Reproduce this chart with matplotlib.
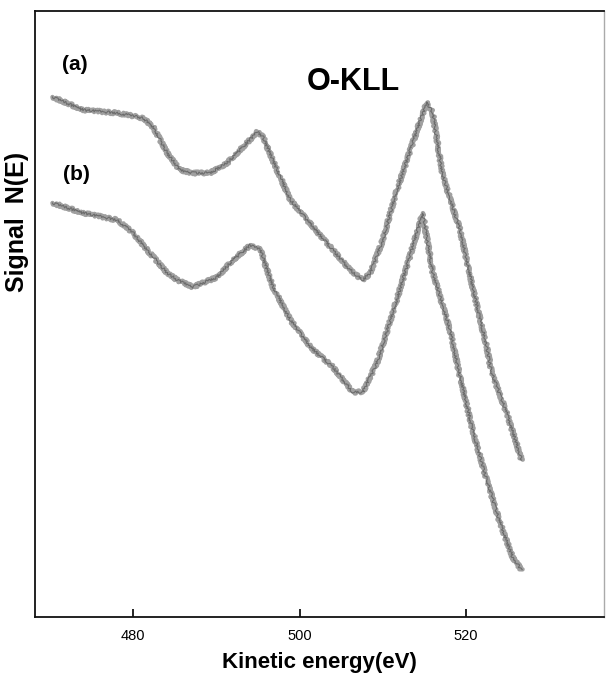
import matplotlib
matplotlib.use("Agg")
import matplotlib.pyplot as plt

plt.rcParams['font.family'] = ['Liberation Sans', 'DejaVu Sans']

# Kinetic energy (eV) and signal N(E) (arbitrary units)
energy_a = [470.3, 474.0, 478.1, 481.2, 482.4, 484.1, 485.6, 487.2, 489.2, 491.3,
            493.2, 494.9, 495.6, 497.3, 498.9, 500.9, 503.7, 506.1, 507.6, 508.5,
            510.0, 511.7, 513.6, 515.3, 516.0, 517.2, 519.3, 520.8, 522.5, 523.1,
            524.9, 526.7]
signal_a = [520, 507, 504, 499, 490, 464, 447, 444, 444, 454,
            470, 485, 480, 447, 417, 397, 370, 347, 337, 344,
            377, 427, 474, 515, 504, 442, 387, 330, 270, 244,
            204, 157]

energy_b = [470.3, 474.0, 478.1, 480.0, 482.0, 484.1, 485.3, 487.2, 490.1, 492.0,
            494.1, 495.3, 496.8, 498.9, 501.3, 504.0, 506.4, 507.6, 509.3, 511.2,
            513.6, 514.8, 516.0, 518.0, 519.2, 520.8, 522.5, 524.1, 525.6, 526.7]
signal_b = [414, 404, 397, 384, 364, 344, 337, 330, 340, 357,
            372, 367, 330, 297, 270, 250, 225, 225, 254, 304,
            370, 404, 345, 290, 244, 187, 137, 94, 60, 47]

xticks = [480, 500, 520]

fig = plt.figure(figsize=(6.06, 6.79), dpi=100)
ax = fig.add_axes([35/606, 1-617/679, 569/606, 606/679])

for e, s in [(energy_a, signal_a), (energy_b, signal_b)]:
    l1, = ax.plot(e, s, color='#a0a0a0', lw=3.2, solid_capstyle='round')
    l1.set_sketch_params(scale=1.5, length=2.0, randomness=3)
    l2, = ax.plot(e, s, color='#404040', lw=0.8, alpha=0.55)
    l2.set_sketch_params(scale=1.3, length=1.8, randomness=4)

ax.set_xlim(468.2, 536.6)
ax.set_ylim(0, 606)
ax.set_xticks(xticks)
ax.set_xticklabels([str(t) for t in xticks], fontsize=10.5)
ax.tick_params(axis='x', direction='in', length=6, width=1.2, pad=9)
ax.set_yticks([])
for side in ['left', 'bottom', 'top']:
    ax.spines[side].set_linewidth(1.3)
    ax.spines[side].set_color('#111111')
ax.spines['right'].set_color('#aaaaaa')
ax.spines['right'].set_linewidth(1.0)

ax.set_xlabel('Kinetic energy(eV)', fontsize=16, fontweight='bold', labelpad=6)

fig.text(353/606, 1-82/679, 'O-KLL', fontsize=22, fontweight='bold', ha='center', va='center')
fig.text(75/606, 1-65/679, '(a)', fontsize=15, fontweight='bold', ha='center', va='center')
fig.text(76/606, 1-175/679, '(b)', fontsize=15, fontweight='bold', ha='center', va='center')
fig.text(17/606, 1-222/679, 'Signal  N(E)', fontsize=18, fontweight='bold', rotation=90,
         ha='center', va='center')

fig.savefig('out.png', dpi=100)
